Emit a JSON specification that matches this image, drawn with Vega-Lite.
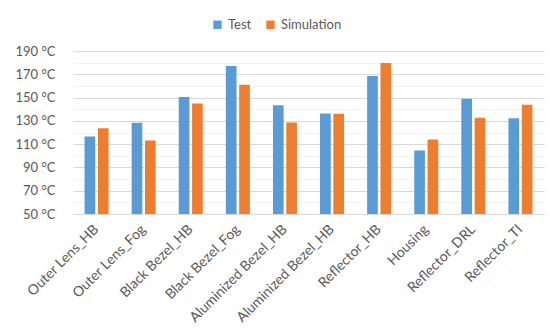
{
  "$schema": "https://vega.github.io/schema/vega-lite/v6.json",
  "autosize": {"type": "none"},
  "width": 471,
  "height": 163,
  "padding": {"left": 73, "top": 51, "right": 6, "bottom": 122},
  "background": "white",
  "data": {
    "values": [
      {"part": "Outer Lens_HB", "series": "Test", "temp": 116.6},
      {"part": "Outer Lens_HB", "series": "Simulation", "temp": 123.7},
      {"part": "Outer Lens_Fog", "series": "Test", "temp": 128.4},
      {"part": "Outer Lens_Fog", "series": "Simulation", "temp": 113.1},
      {"part": "Black Bezel_HB", "series": "Test", "temp": 150.4},
      {"part": "Black Bezel_HB", "series": "Simulation", "temp": 145.0},
      {"part": "Black Bezel_Fog", "series": "Test", "temp": 177.1},
      {"part": "Black Bezel_Fog", "series": "Simulation", "temp": 161.1},
      {"part": "Aluminized Bezel_HB", "series": "Test", "temp": 143.5},
      {"part": "Aluminized Bezel_HB", "series": "Simulation", "temp": 128.6},
      {"part": "Aluminized Bezel_HB ", "series": "Test", "temp": 136.4},
      {"part": "Aluminized Bezel_HB ", "series": "Simulation", "temp": 136.1},
      {"part": "Reflector_HB", "series": "Test", "temp": 168.5},
      {"part": "Reflector_HB", "series": "Simulation", "temp": 179.7},
      {"part": "Housing", "series": "Test", "temp": 104.5},
      {"part": "Housing", "series": "Simulation", "temp": 114.0},
      {"part": "Reflector_DRL", "series": "Test", "temp": 149.0},
      {"part": "Reflector_DRL", "series": "Simulation", "temp": 132.7},
      {"part": "Reflector_TI", "series": "Test", "temp": 132.3},
      {"part": "Reflector_TI", "series": "Simulation", "temp": 143.8}
    ]
  },
  "mark": {"type": "bar", "clip": true},
  "encoding": {
    "x": {
      "field": "part",
      "type": "nominal",
      "sort": null,
      "title": null,
      "scale": {"paddingInner": 0.49, "paddingOuter": 0.245},
      "axis": {
        "labelAngle": -45,
        "labelAlign": "right",
        "labelBaseline": "middle",
        "labelPadding": 13,
        "labelFont": "Lato",
        "labelFontSize": 14,
        "labelColor": "#595959",
        "labelLimit": 200,
        "ticks": false,
        "domain": true,
        "domainColor": "#d9d9d9",
        "domainWidth": 1,
        "grid": false
      }
    },
    "xOffset": {
      "field": "series",
      "type": "nominal",
      "sort": ["Test", "Simulation"],
      "scale": {"paddingInner": 0.2, "paddingOuter": 0}
    },
    "y": {
      "field": "temp",
      "type": "quantitative",
      "title": null,
      "scale": {"domain": [50, 190], "nice": false, "zero": false},
      "axis": {
        "values": [50, 60, 70, 80, 90, 100, 110, 120, 130, 140, 150, 160, 170, 180, 190],
        "labelExpr": "datum.value % 20 == 10 ? datum.value + ' °C' : ''",
        "labelFont": "Lato",
        "labelFontSize": 13,
        "labelColor": "#595959",
        "labelPadding": 18,
        "ticks": false,
        "domain": false,
        "gridColor": {"condition": {"test": "datum.value % 20 == 10", "value": "#d9d9d9"}, "value": "#f2f2f2"},
        "gridWidth": 1
      }
    },
    "color": {
      "field": "series",
      "type": "nominal",
      "sort": ["Test", "Simulation"],
      "scale": {"domain": ["Test", "Simulation"], "range": ["#5b9bd5", "#ed7d31"]},
      "legend": {
        "title": null,
        "orient": "none",
        "legendX": 138,
        "legendY": -33,
        "direction": "horizontal",
        "symbolType": "square",
        "symbolSize": 70,
        "symbolStrokeWidth": 0,
        "labelFont": "Lato",
        "labelFontSize": 13,
        "labelColor": "#595959",
        "columnPadding": 12
      }
    }
  },
  "config": {"view": {"stroke": null}}
}
